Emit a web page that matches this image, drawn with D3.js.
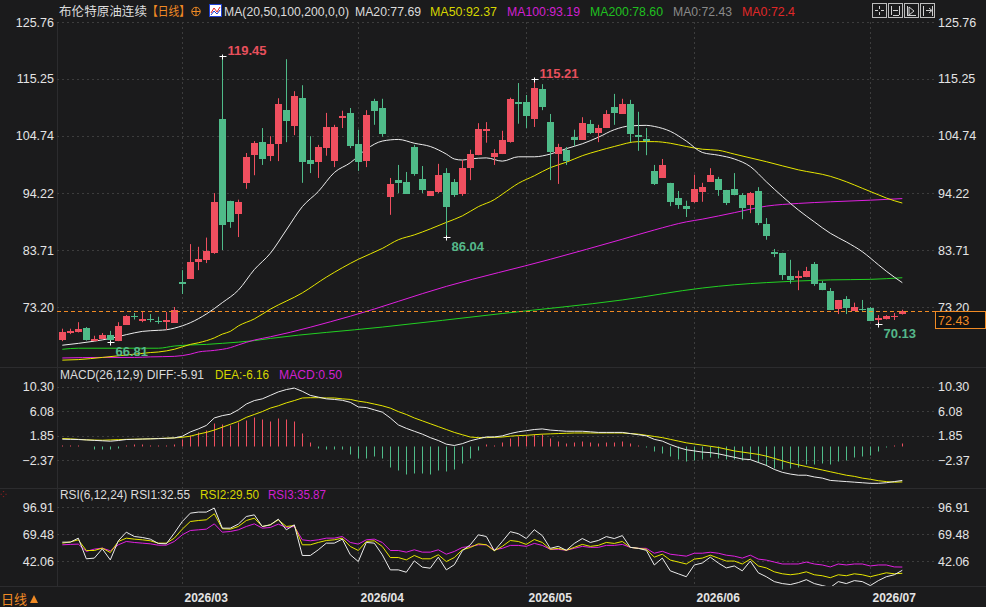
<!DOCTYPE html>
<html><head><meta charset="utf-8">
<script src="https://cdn.jsdelivr.net/npm/d3@7"></script>
<style>
html,body{margin:0;padding:0;background:#1b1b1c;}
svg{display:block;}
text{font-family:"Liberation Sans",Arial,sans-serif;}
.cjk{font-family:"Noto Sans CJK SC","Liberation Sans",sans-serif;}
</style></head>
<body>
<svg id="c" width="986" height="607"></svg>
<script>
// ---------------- DATA ----------------
const monthLabels = ["2026/03","2026/04","2026/05","2026/06","2026/07"];
const monthStartIdx = [15,37,58,79,101];
const mainTicks = [125.76,115.25,104.74,94.22,83.71,73.20];
const macdTicks = [10.30,6.08,1.85,-2.37];
const rsiTicks = [96.91,69.48,42.06];

const open  = [67.1,68.4,68.6,69.3,67.0,67.3,68.0,66.9,69.9,71.6,70.6,71.0,70.6,70.4,70.3,77.8,78.4,81.5,81.9,83.2,
107.9,92.7,90.4,96.1,101.2,103.6,101.1,103.3,109.5,106.6,111.8,100.3,100.0,102.5,100.1,108.1,109.0,103.3,100.1,111.2,
109.9,93.4,96.6,96.3,102.7,96.8,93.7,94.4,97.9,96.3,94.1,98.8,101.2,105.7,100.9,101.4,103.6,111.0,111.0,107.9,
113.4,107.3,101.4,102.2,104.5,104.0,107.0,105.3,106.2,110.1,108.8,110.6,104.9,104.2,98.3,97.0,96.1,93.3,91.8,92.6,
94.4,96.3,96.8,94.8,95.0,93.9,92.0,94.6,88.5,83.4,83.2,78.9,78.6,78.7,81.1,77.6,76.2,72.9,74.7,72.5,
72.9,73.0,70.8,71.0,71.4,71.9];
const high  = [69.2,69.2,70.4,69.5,67.9,68.4,68.8,70.4,71.7,72.1,72.3,71.9,71.4,72.3,73.2,80.0,84.8,84.3,86.0,94.2,
119.45,92.8,93.0,101.6,103.8,106.2,104.7,111.7,118.9,113.0,114.1,104.7,103.1,109.0,106.8,109.4,109.9,105.9,109.5,111.6,
111.6,97.0,99.4,98.1,103.1,99.2,94.6,99.6,98.8,96.8,100.3,102.2,107.1,107.3,102.3,105.7,111.8,114.5,112.3,115.21,
114.3,108.8,103.3,102.7,105.9,108.2,107.7,106.8,109.5,112.5,111.6,111.4,109.2,106.2,99.4,100.5,96.1,94.6,92.8,97.6,
96.1,98.8,97.2,94.8,97.9,94.2,94.4,95.3,89.6,83.9,83.2,81.9,79.9,80.6,81.5,78.0,76.7,74.5,75.2,74.0,
74.5,73.2,71.7,71.7,72.1,72.7];
const low   = [66.9,68.2,68.5,67.0,66.9,67.3,66.81,66.9,69.9,70.9,70.4,70.4,70.1,69.0,70.3,75.6,78.4,80.0,81.3,83.0,
83.7,87.8,86.1,95.0,97.5,99.4,100.1,100.1,103.6,104.9,96.1,97.9,97.0,101.1,99.0,106.2,102.5,98.3,99.0,106.8,
104.6,90.2,94.2,94.1,97.4,94.2,93.7,94.2,86.04,93.5,93.7,96.6,101.2,103.5,99.4,101.4,103.5,107.0,106.2,106.4,
109.5,96.6,95.9,99.4,102.9,104.0,105.1,103.6,106.2,106.8,108.8,103.6,102.0,101.2,95.7,97.0,91.8,91.3,89.8,92.4,
92.6,96.3,93.7,92.0,93.8,89.4,90.5,88.3,85.6,82.4,78.2,77.5,76.3,78.7,77.1,76.3,72.7,71.9,71.9,72.5,
72.5,70.6,70.13,70.9,70.8,71.8];
const close = [68.6,68.8,69.1,67.1,67.3,68.0,67.1,69.7,71.5,71.4,71.0,70.8,70.4,70.8,72.7,77.5,81.5,82.1,83.5,92.6,
88.3,88.9,92.6,100.9,103.5,100.5,103.3,110.6,107.5,112.1,100.0,99.6,102.7,106.4,106.4,108.4,102.9,100.0,108.6,109.4,
105.1,95.9,96.1,94.1,97.7,94.8,94.6,97.6,91.7,93.9,98.8,101.4,106.0,106.0,101.6,104.0,111.6,110.6,108.4,113.6,
110.1,101.8,102.7,100.1,104.0,107.1,105.3,106.2,108.8,109.0,110.6,105.1,104.6,103.8,95.9,99.4,92.6,92.0,91.3,95.0,
95.3,97.6,94.8,92.4,93.9,91.5,94.2,88.7,86.3,83.0,79.1,78.2,78.9,79.9,77.5,76.3,72.7,74.5,73.0,73.2,
72.7,70.6,71.2,71.5,71.6,72.43];

// moving averages: [candle index, value]
const ma20 = [[0,66.15],[4,66.9],[6,67.4],[8,68.1],[10,68.7],[12,68.9],[13,69.0],[14,69.3],[16,70.3],[18,71.9],[20,74.0],[22,76.3],[24,80.1],[26,83.1],[28,87.4],[30,91.7],[32,94.5],[34,98.0],[36,99.8],[38,102.3],[40,103.8],[42,104.1],[44,103.4],[46,102.8],[48,101.4],[49,100.5],[50,100.3],[51,100.5],[53,100.7],[55,100.1],[57,100.9],[59,100.9],[61,101.4],[63,102.4],[65,103.3],[67,104.5],[69,105.9],[71,106.6],[73,106.7],[74,106.5],[76,105.6],[78,103.8],[80,101.7],[82,101.2],[84,100.5],[86,99.1],[88,96.3],[90,93.6],[92,91.1],[94,88.9],[96,86.8],[98,85.2],[100,83.4],[102,81.0],[103,79.8],[105,77.69]];
const ma50 = [[0,63.4],[2,63.5],[5,63.9],[9,64.5],[11,64.8],[12,64.9],[14,65.4],[16,66.3],[17,66.6],[19,67.5],[20,68.2],[21,68.7],[22,69.7],[24,71.0],[26,72.8],[30,75.8],[33,78.7],[37,82.0],[40,84.0],[42,85.6],[44,86.5],[46,87.6],[48,88.8],[50,90.0],[52,91.7],[54,93.0],[55,94.0],[57,96.0],[59,97.4],[61,98.9],[63,99.9],[65,101.1],[67,102.0],[69,102.8],[72,103.7],[74,103.7],[76,103.4],[78,102.8],[80,102.3],[82,102.1],[84,101.4],[88,100.0],[92,98.5],[96,97.3],[98,96.3],[100,95.1],[102,93.9],[103,93.3],[105,92.37]];
const ma100 = [[0,63.8],[5,63.9],[9,63.9],[11,64.0],[14,64.1],[16,64.5],[17,64.9],[19,65.2],[21,65.7],[22,66.2],[24,67.1],[26,67.7],[36,71.5],[48,77.0],[61,82.0],[70,85.7],[74,87.4],[78,88.9],[80,89.4],[84,90.6],[88,91.8],[92,92.3],[96,92.6],[101,92.9],[105,93.19]];
const ma200 = [[0,65.4],[2,65.6],[12,65.6],[14,66.0],[16,66.2],[18,66.3],[20,66.5],[24,67.0],[26,67.4],[40,69.5],[55,72.0],[70,74.5],[80,76.7],[84,77.3],[88,77.7],[92,78.0],[96,78.2],[101,78.3],[105,78.6]];

const macdHist = [0.2,0.2,0.2,0.1,-0.45,-0.45,-0.55,-0.25,0.3,0.4,0.4,0.3,0.3,0.3,0.4,1.25,1.94,2.5,2.85,4.0,
3.8,3.65,4.2,4.5,5.0,4.67,4.33,4.84,4.67,4.33,2.28,0.8,-0.35,-0.45,-0.45,-0.55,-1.37,-1.94,-1.94,-1.6,
-1.94,-3.5,-4.1,-4.84,-4.67,-4.67,-4.73,-4.1,-4.33,-4.0,-2.96,-2.0,-0.57,0.4,0.3,
0.8,1.5,1.8,1.9,2.2,2.1,1.4,1.0,0.6,0.7,0.9,0.7,0.6,0.8,0.8,0.9,0.5,0.2,-0.1,-0.9,
-1.1,-1.7,-2.2,-2.5,-2.3,-2.2,-1.9,-2.0,-2.2,-2.2,-2.4,-2.2,-2.8,-3.2,-3.8,-4.0,-3.8,-3.5,-3.0,-3.1,
-2.9,-3.1,-2.6,-2.3,-1.9,-1.6,-1.5,-0.9,-0.1,0.2,0.5];
const diff = [1.22,1.2,1.17,1.1,1.02,0.95,0.88,1.0,1.17,1.2,1.25,1.28,1.32,1.38,1.45,1.74,2.48,3.0,3.6,4.9,
5.3,5.55,6.3,7.3,7.9,8.2,8.8,9.4,9.8,10.06,9.5,8.8,8.5,8.2,8.1,7.95,7.6,6.8,6.7,6.3,
5.9,4.9,3.7,3.1,2.6,2.1,1.5,1.0,0.37,0.14,0.45,0.95,1.3,1.62,1.62,
1.8,2.2,2.5,2.7,2.9,3.0,2.8,2.7,2.6,2.6,2.6,2.5,2.4,2.4,2.4,2.4,2.2,2.0,1.8,1.2,
0.9,0.3,-0.2,-0.6,-0.8,-1.0,-1.1,-1.3,-1.6,-1.9,-2.2,-2.3,-2.8,-3.3,-4.0,-4.5,-4.8,-5.0,-5.0,-5.3,
-5.5,-5.9,-6.0,-6.1,-6.2,-6.3,-6.4,-6.4,-6.3,-6.1,-5.91];
const dea = [1.34,1.28,1.2,1.12,1.08,1.05,1.1,1.15,1.2,1.22,1.25,1.3,1.35,1.4,1.45,1.55,1.75,2.1,2.4,2.8,
3.3,3.8,4.3,5.0,5.5,6.0,6.6,7.0,7.5,7.9,8.35,8.4,8.4,8.35,8.35,8.2,8.1,7.8,7.6,7.3,
7.0,6.6,6.0,5.5,4.9,4.4,3.9,3.4,2.9,2.4,2.0,1.6,1.5,1.5,1.55,
1.6,1.75,1.85,1.9,2.0,2.1,2.15,2.2,2.25,2.3,2.3,2.3,2.3,2.3,2.3,2.3,2.2,2.1,1.9,1.7,
1.5,1.2,0.9,0.6,0.4,0.2,0.0,-0.2,-0.5,-0.8,-1.0,-1.2,-1.4,-1.7,-2.1,-2.5,-2.9,-3.2,-3.5,-3.8,
-4.1,-4.4,-4.7,-5.0,-5.2,-5.5,-5.7,-5.95,-6.1,-6.2,-6.16];

const rsi1 = [61.3,61.3,65.4,44.3,45.0,54.5,43.2,62.7,71.5,67.1,66.1,64.4,60.0,59.6,70.5,82.4,90.9,92.0,92.0,96.1,
75.6,75.6,79.7,87.5,89.2,77.3,79.0,84.8,73.9,79.0,47.7,47.7,53.5,60.3,60.3,64.4,48.4,41.5,61.0,60.3,
48.4,33.0,33.0,30.6,42.2,35.8,34.7,46.0,33.0,38.2,52.5,58.6,68.8,67.1,52.5,
62,72,70,65,74,68,55,57,53,60,65,61,63,67,65,68,56,55,53,38,
45,32,29,26,38,40,46,40,35,37,32,42,30,26,21,19,18,20,23,19,
17,15,21,19,22,21,17,22,26,28,32.55];
const rsi2 = [60.3,61.5,63.7,52.8,52.8,55.2,50.7,62.0,65.4,64.4,63.7,62.7,60.3,60.3,65.4,74.6,82.4,83.4,84.1,90.3,
75.0,74.6,77.3,83.4,85.8,77.3,79.0,84.1,77.3,78.3,58.6,58.6,61.0,63.0,63.7,65.4,56.9,52.8,62.0,62.7,
56.9,45.6,45.6,43.2,47.7,44.3,44.3,48.4,41.5,45.6,53.5,55.9,59.6,58.6,52.5,
57,63,62,59,64,61,54,55,53,56,59,57,58,61,60,62,56,55,54,46,
49,43,41,39,44,45,48,45,42,42,39,44,37,35,31,29,28,29,31,28,
27,25,28,27,29,28,26,28,30,29,29.5];
const rsi3 = [58.6,59.0,59.3,51.8,54.2,55.2,52.5,58.6,62.0,61.0,60.3,59.6,58.2,58.2,62.0,68.8,73.2,73.9,74.6,80.0,
71.5,72.2,73.9,77.3,80.0,75.6,76.3,79.7,76.3,77.3,63.7,62.7,63.7,65.4,65.4,67.1,61.0,59.3,63.7,64.4,
61.0,52.8,52.8,51.1,53.5,51.1,51.1,53.5,49.0,51.8,55.9,56.9,58.6,58.6,53.5,
55,58,58,57,60,58,54,54,53,55,57,56,56,58,58,59,56,55,55,50,
52,49,48,47,50,50,51,50,48,47,45,48,44,43,41,39,39,39,41,39,
38,36,39,38,39,39,37,38,38,36,35.87];

const lastPrice = 72.43;
const extremes = [ // [index, value, type]
  [20,119.45,"high"],[59,115.21,"high"],[48,86.04,"low"],[6,66.81,"low"],[102,70.13,"low"]];

// ---------------- DRAW ----------------
const C = {bg:"#1b1b1c", up:"#ef4f5f", down:"#4fbb89", grid:"#3d3d3d", text:"#e4e4e4",
  white:"#ececec", yellow:"#e6e600", mag:"#e020e0", green:"#22d022", orange:"#f08a24"};
const svg = d3.select("#c");
svg.append("rect").attr("width",986).attr("height",607).attr("fill",C.bg);

const L = 57, R = 935;
const x = d3.scaleLinear().domain([0,105]).range([62.3,902.3]);
const yM = d3.scaleLinear().domain([73.20,125.76]).range([307,22]);
const yD = d3.scaleLinear().domain([-2.37,10.30]).range([460,386.7]);
const yR = d3.scaleLinear().domain([42.06,96.91]).range([561,507.3]);
const px = i => Math.round(x(i)) + 0.5;

// clip paths
const defs = svg.append("defs");
[["cm",22,366],["cd",368,487],["cr",489,586]].forEach(([id,t,b])=>{
  defs.append("clipPath").attr("id",id).append("rect").attr("x",L).attr("y",t).attr("width",R-L).attr("height",b-t);
});

// panel separators
[367,488,586].forEach(yy=>svg.append("line").attr("x1",0).attr("x2",986).attr("y1",yy+0.5).attr("y2",yy+0.5).attr("stroke","#2c2c2e"));
svg.append("line").attr("x1",L+0.5).attr("x2",L+0.5).attr("y1",22).attr("y2",586).attr("stroke","#2c2c2e");

// horizontal grids
function hgrid(scale, ticks){
  svg.append("g").selectAll("line").data(ticks).join("line")
    .attr("x1",L).attr("x2",R).attr("y1",d=>Math.round(scale(d))+0.5).attr("y2",d=>Math.round(scale(d))+0.5)
    .attr("stroke",C.grid).attr("stroke-dasharray","2,3");
}
hgrid(yM, mainTicks); hgrid(yD, macdTicks); hgrid(yR, rsiTicks);
// vertical month grids
svg.append("g").selectAll("line").data(monthStartIdx).join("line")
  .attr("x1",d=>px(d)).attr("x2",d=>px(d)).attr("y1",22).attr("y2",586)
  .attr("stroke",C.grid).attr("stroke-dasharray","2,3");

// axes
function axes(scale, ticks){
  const fmt = d3.format(".2f");
  const gl = svg.append("g").attr("transform","translate(54,0)")
    .call(d3.axisLeft(scale).tickValues(ticks).tickFormat(fmt).tickSize(0).tickPadding(0));
  const gr = svg.append("g").attr("transform","translate(938,0)")
    .call(d3.axisRight(scale).tickValues(ticks).tickFormat(fmt).tickSize(0).tickPadding(0));
  [gl,gr].forEach(g=>{ g.select(".domain").remove();
    g.selectAll("text").attr("fill",C.text).style("font-size","12.5px").style("font-family","'Liberation Sans',Arial,sans-serif"); });
}
axes(yM, mainTicks); axes(yD, macdTicks); axes(yR, rsiTicks);

// ---- main panel ----
const gMain = svg.append("g").attr("clip-path","url(#cm)");
const line = (ys)=> d3.line().x(d=>x(d[0])).y(d=>ys(d[1])).curve(d3.curveMonotoneX);
[[ma200,C.green],[ma100,C.mag],[ma50,C.yellow],[ma20,C.white]].forEach(([d,col])=>{
  gMain.append("path").datum(d).attr("d",line(yM)).attr("fill","none").attr("stroke",col).attr("stroke-width",1);
});
// last price dashed line
const yLast = Math.round(yM(lastPrice))+0.5;
svg.append("line").attr("x1",L).attr("x2",R).attr("y1",yLast).attr("y2",yLast)
  .attr("stroke",C.orange).attr("stroke-dasharray","4,3");

// candles
const idx = d3.range(close.length);
const gC = gMain.append("g");
gC.selectAll("line").data(idx).join("line")
  .attr("x1",px).attr("x2",px).attr("y1",i=>yM(high[i])).attr("y2",i=>yM(low[i]))
  .attr("stroke",i=>close[i]>=open[i]?C.up:C.down);
gC.selectAll("rect").data(idx).join("rect")
  .attr("x",i=>Math.round(x(i))-3).attr("width",7)
  .attr("y",i=>Math.round(yM(Math.max(open[i],close[i]))))
  .attr("height",i=>Math.max(1,Math.round(yM(Math.min(open[i],close[i])))-Math.round(yM(Math.max(open[i],close[i])))))
  .attr("fill",i=>close[i]>=open[i]?C.up:C.down);

// extremes
extremes.forEach(([i,v,t])=>{
  const cx = px(i), cy = Math.round(yM(v))+0.5;
  svg.append("line").attr("x1",cx-3).attr("x2",cx+4).attr("y1",cy).attr("y2",cy).attr("stroke","#fff");
  svg.append("line").attr("x1",cx).attr("x2",cx).attr("y1",cy-2).attr("y2",cy+3).attr("stroke","#fff");
  svg.append("text").attr("x",cx+5).attr("y",t==="high"?cy-1.5:cy+13)
    .attr("fill",t==="high"?"#e8505c":"#55b88a").style("font-size","13px").style("font-weight","bold")
    .text(d3.format(".2f")(v));
});

// price box at right
svg.append("rect").attr("x",935.5).attr("y",yLast).attr("width",50).attr("height",17)
  .attr("fill","#111").attr("stroke",C.orange);
svg.append("text").attr("x",938).attr("y",yLast+13).attr("fill",C.orange).style("font-size","12.5px").text(d3.format(".2f")(lastPrice));

// ---- MACD panel ----
const gD = svg.append("g").attr("clip-path","url(#cd)");
gD.selectAll("line").data(idx).join("line")
  .attr("x1",px).attr("x2",px).attr("y1",Math.round(yD(0))+0.5)
  .attr("y2",i=>Math.round(yD(macdHist[i]))+0.5)
  .attr("stroke",i=>macdHist[i]>=0?C.up:C.down);
const lineI = (ys)=> d3.line().x((d,i)=>x(i)).y(d=>ys(d));
gD.append("path").datum(dea).attr("d",lineI(yD)).attr("fill","none").attr("stroke",C.yellow);
gD.append("path").datum(diff).attr("d",lineI(yD)).attr("fill","none").attr("stroke",C.white);

// ---- RSI panel ----
const gR = svg.append("g").attr("clip-path","url(#cr)");
gR.append("path").datum(rsi3).attr("d",lineI(yR)).attr("fill","none").attr("stroke",C.mag);
gR.append("path").datum(rsi2).attr("d",lineI(yR)).attr("fill","none").attr("stroke",C.yellow);
gR.append("path").datum(rsi1).attr("d",lineI(yR)).attr("fill","none").attr("stroke",C.white);

// ---- month labels ----
svg.append("g").selectAll("text").data(monthStartIdx).join("text")
  .attr("x",d=>px(d)+2).attr("y",602).attr("fill",C.text)
  .style("font-size","12px").style("font-weight","bold")
  .text((d,i)=>monthLabels[i]);

// ---- header legend ----
function txt(xx,yy,s,col,size,cls,len){
  const t = svg.append("text").attr("x",xx).attr("y",yy).attr("fill",col).style("font-size",(size||12.5)+"px").text(s);
  if(cls) t.attr("class",cls);
  if(len) t.attr("textLength",len).attr("lengthAdjust","spacingAndGlyphs");
  return t;
}
txt(59,16,"布伦特原油连续","#dcdcdc",12.5,"cjk",88);
txt(147,16,"【日线】",C.orange,12.5,"cjk",43);
svg.append("circle").attr("cx",196).attr("cy",11.5).attr("r",4.2).attr("fill","none").attr("stroke",C.orange);
svg.append("line").attr("x1",191.8).attr("x2",200.2).attr("y1",11.5).attr("y2",11.5).attr("stroke",C.orange);
svg.append("line").attr("x1",196).attr("x2",196).attr("y1",7.3).attr("y2",15.7).attr("stroke",C.orange);
// MA icon
svg.append("rect").attr("x",209.5).attr("y",4.5).attr("width",12).attr("height",12).attr("fill","#fff").attr("stroke","#2040d0");
svg.append("polyline").attr("points","211,13 214,8 217,12 220,7").attr("fill","none").attr("stroke","#e02020");
svg.append("polyline").attr("points","211,15 214,11 217,14 220,10").attr("fill","none").attr("stroke","#2040d0");
txt(224,16,"MA(20,50,100,200,0,0)","#dcdcdc",12.5,null,125);
txt(355,16,"MA20:77.69","#dcdcdc",12.5,null,66);
txt(430,16,"MA50:92.37","#d6d600",12.5,null,67);
txt(507,16,"MA100:93.19","#d020d0",12.5,null,73);
txt(590,16,"MA200:78.60","#20c020",12.5,null,73);
txt(673,16,"MA0:72.43","#8a8a8a",12.5,null,59);
txt(742,16,"MA0:72.4","#e02828",12.5,null,53);
// toolbar icons
[872,888,904,920].forEach((bx,k)=>{
  svg.append("rect").attr("x",bx+0.5).attr("y",3.5).attr("width",14).attr("height",14).attr("fill","none").attr("stroke","#bdbdbd");
  const g = svg.append("g").attr("stroke","#d0d0d0").attr("fill","none");
  if(k===0){ g.append("path").attr("d",`M${bx+7.5},6 v3 M${bx+7.5},12 v3 M${bx+3},10.5 h3 M${bx+9},10.5 h3`); }
  if(k===1){ g.append("path").attr("d",`M${bx+3.5},6 v9 M${bx+11.5},6 v9 M${bx+5},10.5 h5 M${bx+5},15.5 h6`); }
  if(k===2){ g.append("path").attr("d",`M${bx+3.5},6 v10 M${bx+5},7 l5,4 l-5,4 z M${bx+3},15.5 h9`); }
  if(k===3){ g.append("path").attr("d",`M${bx+3.5},6 v10 M${bx+6},10.5 h5 M${bx+9},8 l3,2.5 l-3,2.5 M${bx+12.5},6 v10`); }
});

// ---- panel legends ----
txt(60,379,"MACD(26,12,9) DIFF:-5.91","#dcdcdc",12.5,null,144);
txt(215,379,"DEA:-6.16","#d6d600",12.5,null,54);
txt(279,379,"MACD:0.50","#d020d0",12.5,null,63);
txt(60,499,"RSI(6,12,24) RSI1:32.55","#dcdcdc",12.5,null,130);
txt(200,499,"RSI2:29.50","#d6d600",12.5,null,59);
txt(268,499,"RSI3:35.87","#d020d0",12.5,null,58);

// bottom-left period label
txt(1,604,"日线",C.orange,13,"cjk");
svg.append("path").attr("d","M30,603 l4,-8 l4,8 z").attr("fill",C.orange);
svg.append("text").attr("x",0).attr("y",497).attr("fill","#d02020").style("font-size","8px").text("⁘");
</script>
</body></html>
